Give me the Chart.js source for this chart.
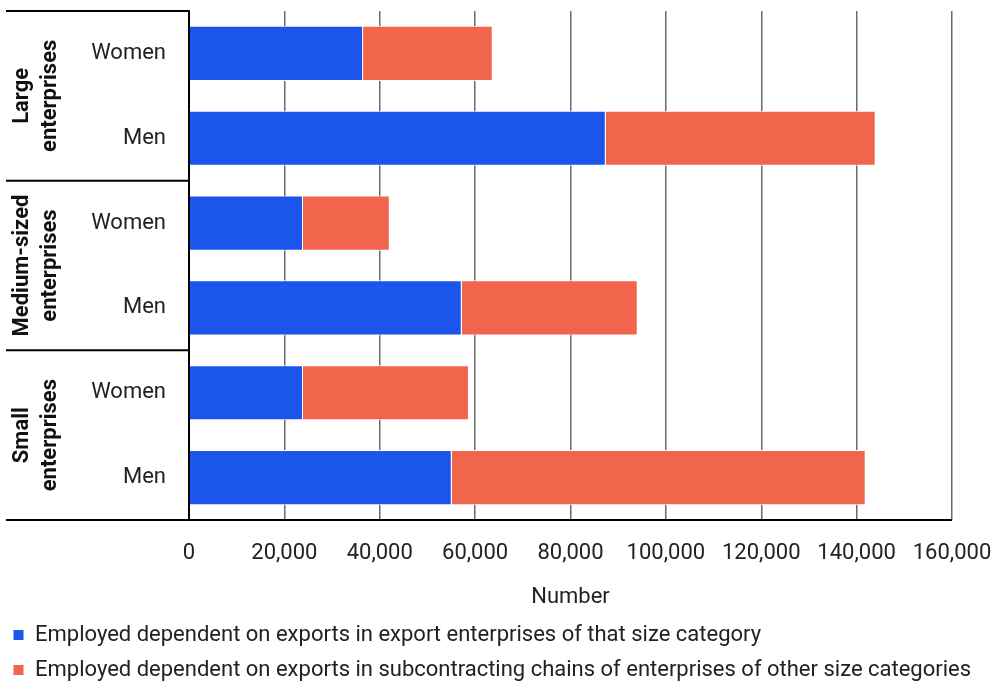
<!DOCTYPE html>
<html>
<head>
<meta charset="utf-8">
<script src="https://cdn.jsdelivr.net/npm/chart.js@4"></script>
<style>
  body { margin: 0; background: #fff; }
  #chart { display: block; }
</style>
</head>
<body>
<canvas id="chart" width="999" height="682"></canvas>
<script>
let categorie = ["Women", "Men", "Women", "Men", "Women", "Men"];
let gruppi = [["Large", "enterprises"], ["Medium-sized", "enterprises"], ["Small", "enterprises"]];
let esportatori = [36500, 87400, 23900, 57200, 23900, 55100]; // blu
let subfornitura = [27200, 56600, 18200, 36900, 34800, 86800]; // rosso
let tickX = [0, 20000, 40000, 60000, 80000, 100000, 120000, 140000, 160000];
let nomiSerie = [
  "Employed dependent on exports in export enterprises of that size category",
  "Employed dependent on exports in subcontracting chains of enterprises of other size categories"
];

const fontBase = "Roboto";

// linee nere e etichette dei gruppi a sinistra
const gruppiPlugin = {
  id: "gruppi",
  afterDraw(chart) {
    const ctx = chart.ctx;
    const area = chart.chartArea;
    const y = chart.scales.y;
    const sinistra = 6;
    ctx.save();
    ctx.strokeStyle = "#000";
    ctx.lineWidth = 2;
    let linee = [area.top, area.bottom];
    for (let i = 1; i < gruppi.length; i++) {
      linee.push((y.getPixelForValue(i * 2 - 1) + y.getPixelForValue(i * 2)) / 2);
    }
    linee.forEach(py => {
      ctx.beginPath();
      ctx.moveTo(sinistra, py);
      ctx.lineTo(py == area.bottom ? area.right : area.left, py);
      ctx.stroke();
    });
    ctx.fillStyle = "#111";
    ctx.font = "bold 22px " + fontBase;
    ctx.textAlign = "center";
    ctx.textBaseline = "alphabetic";
    gruppi.forEach((righe, i) => {
      const cy = (y.getPixelForValue(i * 2) + y.getPixelForValue(i * 2 + 1)) / 2;
      ctx.save();
      ctx.translate(0, cy);
      ctx.rotate(-Math.PI / 2);
      righe.forEach((t, j) => {
        ctx.fillText(t, 0, 28 + j * 28);
      });
      ctx.restore();
    });
    ctx.restore();
  }
};

const chart = new Chart(document.getElementById("chart").getContext("2d"), {
  type: "bar",
  data: {
    labels: categorie,
    datasets: [{
      label: nomiSerie[0],
      data: esportatori,
      backgroundColor: "#1b55ec",
      borderColor: "#ffffff",
      borderWidth: 1
    }, {
      label: nomiSerie[1],
      data: subfornitura,
      backgroundColor: "#f1654d",
      borderColor: "#ffffff",
      borderWidth: 1
    }]
  },
  options: {
    indexAxis: "y",
    responsive: false,
    animation: false,
    layout: { padding: { left: 0, top: 11, right: 0, bottom: -9 } },
    datasets: { bar: { barPercentage: 0.65, categoryPercentage: 1 } },
    scales: {
      x: {
        stacked: true,
        min: 0,
        max: 160000,
        afterBuildTicks: scale => { scale.ticks = tickX.map(v => ({ value: v })); },
        grid: { color: "#6b6b6b", lineWidth: 1.5, drawTicks: false },
        border: { display: false },
        ticks: {
          color: "#222",
          font: { family: fontBase, size: 22 },
          padding: 20,
          maxRotation: 0,
          callback: v => v.toLocaleString("en-US")
        },
        title: {
          display: true,
          text: "Number",
          color: "#222",
          font: { family: fontBase, size: 22 },
          padding: { top: 0, bottom: 0 }
        },
        afterFit: scale => { scale.height = 91; scale.paddingLeft = 0; scale.paddingRight = 47; }
      },
      y: {
        stacked: true,
        grid: { display: false, drawTicks: false },
        border: { color: "#000", width: 2 },
        ticks: {
          color: "#222",
          font: { family: fontBase, size: 22 },
          padding: 23
        },
        afterFit: scale => { scale.width = 189; scale.paddingTop = 0; scale.paddingBottom = 0; }
      }
    },
    plugins: {
      legend: {
        position: "bottom",
        align: "start",
        labels: {
          color: "#222",
          font: { family: fontBase, size: 22 },
          boxWidth: 11,
          boxHeight: 11,
          padding: 13
        }
      },
      tooltip: { enabled: false }
    }
  },
  plugins: [gruppiPlugin]
});
</script>
</body>
</html>
